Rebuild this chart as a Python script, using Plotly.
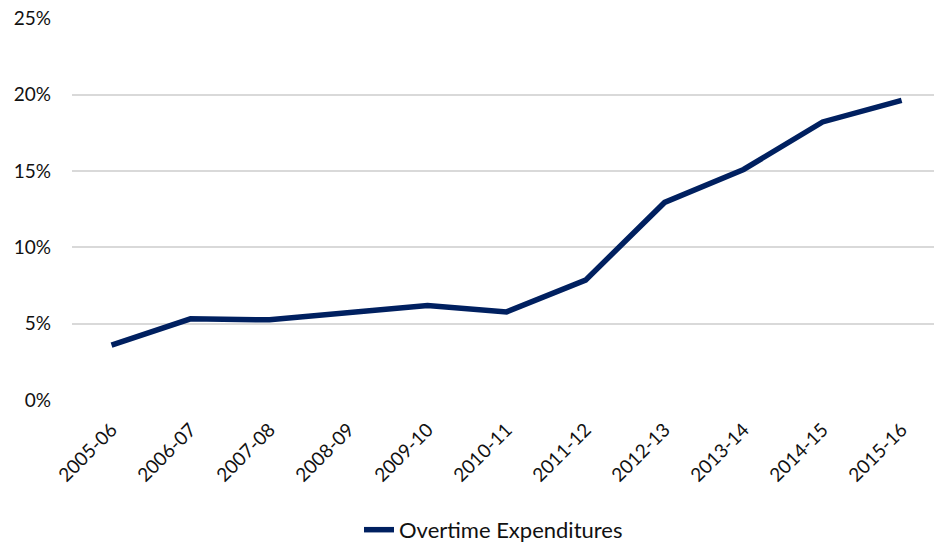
import plotly.graph_objects as go

years = ["2005-06", "2006-07", "2007-08", "2008-09", "2009-10", "2010-11",
         "2011-12", "2012-13", "2013-14", "2014-15", "2015-16"]
overtime_pct = [3.60, 5.32, 5.25, 5.71, 6.19, 5.77, 7.85, 12.94, 15.10, 18.21, 19.63]
y_ticks = [0, 5, 10, 15, 20, 25]
y_tick_labels = ["0%", "5%", "10%", "15%", "20%", "25%"]

font_family = "Lato, 'Open Sans', sans-serif"

fig = go.Figure()
fig.add_trace(go.Scatter(
    x=list(range(len(years))),
    y=overtime_pct,
    mode="lines",
    name="Overtime Expenditures",
    line=dict(color="#002060", width=5.5),
))

fig.update_layout(
    width=934,
    height=546,
    margin=dict(l=72, r=0, t=18, b=146, autoexpand=False),
    paper_bgcolor="white",
    plot_bgcolor="white",
    font=dict(family=font_family, size=19, color="#111111"),
    showlegend=True,
    legend=dict(
        orientation="h",
        x=0.489, xanchor="center",
        y=-0.34, yanchor="middle",
        font=dict(size=22, color="#111111"),
    ),
    xaxis=dict(
        tickmode="array",
        tickvals=list(range(len(years))),
        ticktext=years,
        tickangle=-45,
        range=[-0.5, 10.41],
        showgrid=False,
        zeroline=False,
        showline=False,
        ticks="",
        automargin=False,
        ticklabelstandoff=14,
        tickfont=dict(size=19),
    ),
    yaxis=dict(
        tickmode="array",
        tickvals=y_ticks,
        ticktext=y_tick_labels,
        range=[0, 25.02],
        showgrid=True,
        gridcolor="#d9d9d9",
        gridwidth=1.5,
        zeroline=False,
        showline=False,
        ticks="",
        automargin=False,
        ticklabelstandoff=20,
        tickfont=dict(size=19),
    ),
)

fig.write_html(
    "out.html",
    config={"displayModeBar": False},
    post_script="document.body.style.margin='0';document.body.style.padding='0';",
)
